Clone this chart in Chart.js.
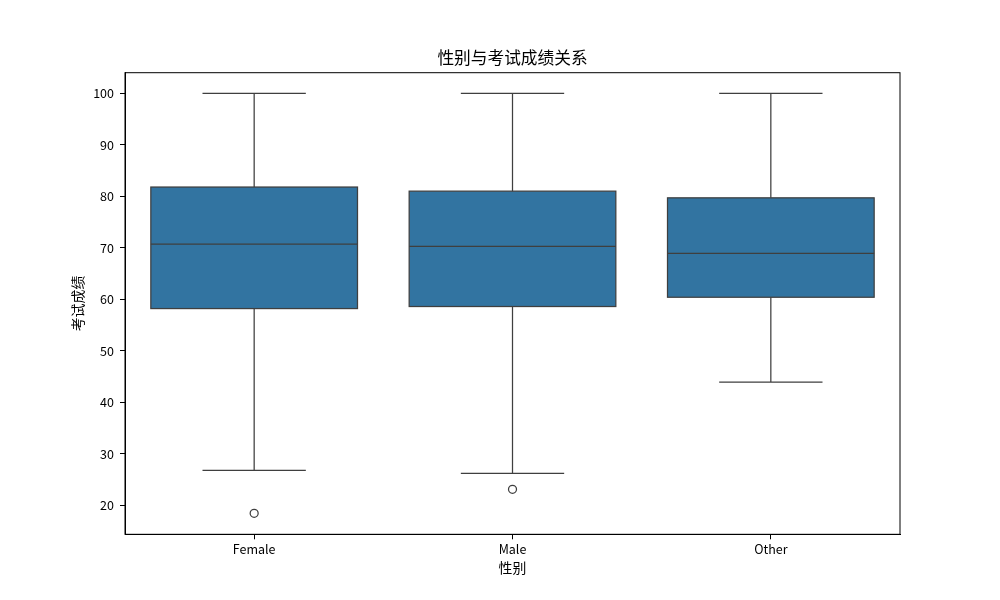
<!DOCTYPE html>
<html>
<head>
<meta charset="utf-8">
<script src="https://cdn.jsdelivr.net/npm/chart.js@4"></script>
<style>
    body { margin: 0; background: #fff; }
    #wrap { width: 1000px; height: 600px; }
</style>
</head>
<body>
<div id="wrap"><canvas id="chartCanvas" width="1000" height="600"></canvas></div>
<script>
// Données (boxplot par genre)
const categories = ['Female', 'Male', 'Other'];
const q1 = [58.2, 58.6, 60.4];
const mediane = [70.7, 70.3, 68.9];
const q3 = [81.8, 81.0, 79.7];
const moustacheBas = [26.8, 26.2, 43.9];
const moustacheHaut = [100, 100, 100];
const outliers = [18.45, 23.1, null];
const yTicks = [20, 30, 40, 50, 60, 70, 80, 90, 100];

const couleurBoite = 'rgb(50, 116, 161)';
const couleurTrait = '#3f3f3f';

// Plugin pour dessiner contours, moustaches, médianes et le cadre
const boxPlugin = {
    id: 'boxPlugin',
    afterDatasetsDraw(chart) {
        const ctx = chart.ctx;
        const x = chart.scales.x;
        const y = chart.scales.y;
        const barres = chart.getDatasetMeta(0).data;
        ctx.save();
        ctx.strokeStyle = couleurTrait;
        ctx.lineWidth = 1.25;
        categories.forEach((cat, i) => {
            const cx = x.getPixelForValue(i);
            const demi = barres[i].width / 2;
            const cap = demi / 2;
            const yQ1 = y.getPixelForValue(q1[i]);
            const yQ3 = y.getPixelForValue(q3[i]);
            // contour de la boite
            ctx.strokeRect(cx - demi, yQ3, demi * 2, yQ1 - yQ3);
            ctx.beginPath();
            // moustache haute
            ctx.moveTo(cx, yQ3);
            ctx.lineTo(cx, y.getPixelForValue(moustacheHaut[i]));
            ctx.moveTo(cx - cap, y.getPixelForValue(moustacheHaut[i]));
            ctx.lineTo(cx + cap, y.getPixelForValue(moustacheHaut[i]));
            // moustache basse
            ctx.moveTo(cx, yQ1);
            ctx.lineTo(cx, y.getPixelForValue(moustacheBas[i]));
            ctx.moveTo(cx - cap, y.getPixelForValue(moustacheBas[i]));
            ctx.lineTo(cx + cap, y.getPixelForValue(moustacheBas[i]));
            // médiane
            ctx.moveTo(cx - demi, y.getPixelForValue(mediane[i]));
            ctx.lineTo(cx + demi, y.getPixelForValue(mediane[i]));
            ctx.stroke();
        });
        // cadre complet autour de la zone
        const a = chart.chartArea;
        ctx.strokeStyle = '#000';
        ctx.lineWidth = 1;
        ctx.strokeRect(a.left, a.top, a.right - a.left, a.bottom - a.top);
        ctx.restore();
    }
};

Chart.defaults.font.family = "'Noto Sans CJK SC', 'Noto Sans', sans-serif";
Chart.defaults.color = '#000';

const ctx = document.getElementById('chartCanvas').getContext('2d');
new Chart(ctx, {
    type: 'bar',
    data: {
        labels: categories,
        datasets: [{
            label: 'box',
            data: q1.map((v, i) => [v, q3[i]]),
            backgroundColor: couleurBoite,
            borderWidth: 0,
            barPercentage: 1,
            categoryPercentage: 0.8,
            order: 2
        }, {
            type: 'line',
            label: 'outliers',
            data: outliers,
            showLine: false,
            pointRadius: 4,
            pointBorderWidth: 1.25,
            pointBorderColor: couleurTrait,
            pointBackgroundColor: 'rgba(0,0,0,0)',
            order: 1
        }]
    },
    options: {
        responsive: false,
        animation: false,
        layout: {
            autoPadding: false,
            padding: { top: 0, right: 100, bottom: 0, left: 0 }
        },
        plugins: {
            legend: { display: false },
            tooltip: { enabled: false }
        },
        scales: {
            // axe du haut vide, sert juste à centrer le titre sur la zone du graphique
            xTop: {
                type: 'category',
                labels: categories,
                position: 'top',
                afterFit: function(scale) { scale.height = 72.7; },
                grid: { display: false },
                border: { display: false },
                ticks: { display: false },
                title: {
                    display: true,
                    text: '性别与考试成绩关系',
                    font: { size: 16.7, lineHeight: 1.2 },
                    padding: { top: 48, bottom: 0 }
                }
            },
            x: {
                afterFit: function(scale) { scale.height = 65.7; },
                grid: { display: true, offset: false, drawOnChartArea: false, drawTicks: true, tickLength: 5, tickColor: '#000', tickWidth: 1 },
                border: { display: true, color: '#000', width: 1 },
                ticks: { font: { size: 12.5 }, padding: 2 },
                title: {
                    display: true,
                    text: '性别',
                    font: { size: 13.9 },
                    padding: { top: 0, bottom: 23.7 }
                }
            },
            y: {
                min: 14.37,
                max: 104.0,
                afterFit: function(scale) { scale.width = 125; },
                afterBuildTicks: function(scale) {
                    scale.ticks = yTicks.map(v => ({ value: v }));
                },
                grid: { display: true, drawOnChartArea: false, drawTicks: true, tickLength: 5, tickColor: '#000', tickWidth: 1 },
                border: { display: true, color: '#000', width: 1 },
                ticks: { font: { size: 12.5 }, padding: 6 },
                title: {
                    display: true,
                    text: '考试成绩',
                    font: { size: 13.9 },
                    padding: { top: 69.7, bottom: 0 }
                }
            }
        }
    },
    plugins: [boxPlugin]
});
</script>
</body>
</html>
